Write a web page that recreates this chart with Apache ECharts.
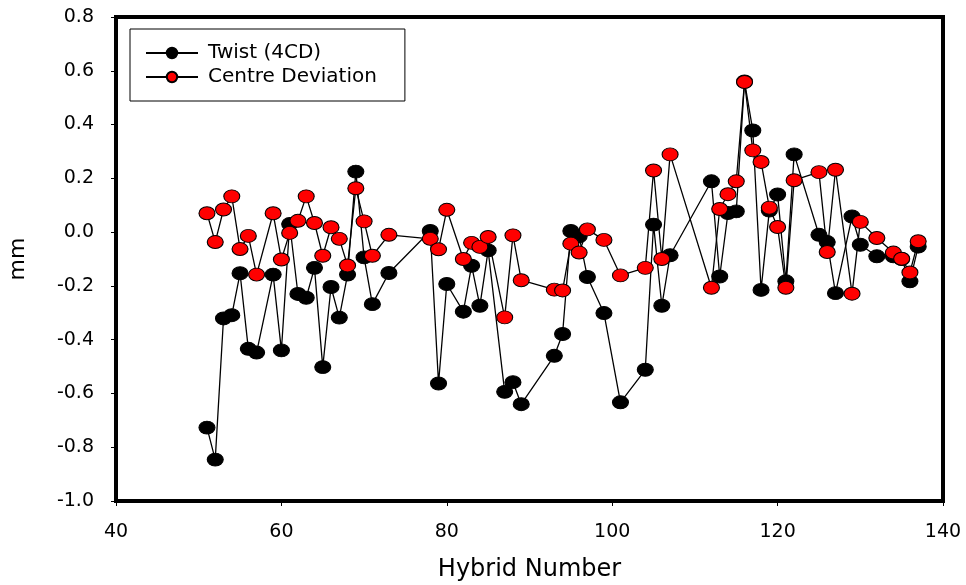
<!DOCTYPE html>
<html>
<head>
<meta charset="utf-8">
<script src="https://cdn.jsdelivr.net/npm/echarts@6/dist/echarts.min.js"></script>
<style>
  html, body { margin: 0; padding: 0; background: #fff; }
  #chart { width: 966px; height: 585px; }
</style>
</head>
<body>
<div id="chart"></div>
<script>
// hybrid numbers
var hybrids = [51, 52, 53, 54, 55, 56, 57, 59, 60, 61, 62, 63, 64, 65, 66, 67, 68, 69, 70, 71, 73,
  78, 79, 80, 82, 83, 84, 85, 87, 88, 89, 93, 94, 95, 96, 97, 99, 101, 104, 105, 106, 107,
  112, 113, 114, 115, 116, 117, 118, 119, 120, 121, 122, 125, 126, 127, 129, 130, 132, 134, 135, 136, 137]

// Twist (4CD), mm
var twist = [-0.727, -0.846, -0.321, -0.309, -0.153, -0.434, -0.448, -0.158, -0.440, 0.030, -0.230, -0.244, -0.133, -0.502, -0.204, -0.318, -0.158, 0.225, -0.094, -0.268, -0.152,
  0.004, -0.563, -0.193, -0.296, -0.125, -0.274, -0.068, -0.594, -0.558, -0.640, -0.460, -0.379, 0.004, -0.016, -0.167, -0.301, -0.633, -0.512, 0.028, -0.274, -0.086,
  0.189, -0.165, 0.071, 0.077, 0.560, 0.378, -0.215, 0.080, 0.140, -0.183, 0.289, -0.010, -0.037, -0.227, 0.058, -0.047, -0.090, -0.090, -0.100, -0.183, -0.054]

// Centre Deviation, mm
var centreDev = [0.070, -0.037, 0.084, 0.133, -0.063, -0.014, -0.158, 0.070, -0.102, -0.003, 0.042, 0.133, 0.034, -0.088, 0.018, -0.025, -0.124, 0.163, 0.040, -0.088, -0.010,
  -0.025, -0.064, 0.083, -0.100, -0.040, -0.055, -0.018, -0.317, -0.012, -0.179, -0.214, -0.217, -0.043, -0.076, 0.010, -0.029, -0.161, -0.133, 0.229, -0.100, 0.289,
  -0.207, 0.086, 0.141, 0.189, 0.558, 0.304, 0.261, 0.091, 0.019, -0.207, 0.193, 0.223, -0.074, 0.232, -0.229, 0.038, -0.022, -0.076, -0.099, -0.150, -0.034]

function pairs(vals) {
  return hybrids.map(function (h, i) { return [h, vals[i]] })
}

var font = 'DejaVu Sans'
var myChart = echarts.init(document.getElementById('chart'))

var option = {
  animation: false,
  backgroundColor: '#fff',
  grid: {
    left: 116,
    right: 23,
    top: 17,
    bottom: 84,
    outerBoundsMode: 'none',
    show: true,
    borderColor: '#000',
    borderWidth: 4
  },
  legend: {
    left: 130,
    top: 29,
    orient: 'vertical',
    itemWidth: 52,
    itemHeight: 13,
    itemGap: 4,
    borderColor: '#000',
    borderWidth: 1,
    padding: [14, 28, 14, 15],
    textStyle: { fontFamily: font, fontSize: 20, color: '#000', padding: [0, 0, 0, 5] },
    data: ['Twist (4CD)', 'Centre Deviation']
  },
  xAxis: {
    type: 'value',
    min: 40,
    max: 140,
    interval: 20,
    name: 'Hybrid Number',
    nameLocation: 'middle',
    nameGap: 57,
    nameTextStyle: { fontFamily: font, fontSize: 24, color: '#000' },
    axisLine: { onZero: false, lineStyle: { color: '#000', width: 4 } },
    axisTick: { show: true, length: 5, lineStyle: { color: '#000', width: 1 } },
    axisLabel: { fontFamily: font, fontSize: 19, color: '#000', margin: 22 },
    splitLine: { show: false }
  },
  yAxis: {
    type: 'value',
    min: -1,
    max: 0.8,
    interval: 0.2,
    name: 'mm',
    nameLocation: 'middle',
    nameGap: 87,
    nameRotate: 90,
    nameTextStyle: { fontFamily: font, fontSize: 22, color: '#000' },
    axisLine: { show: true, onZero: false, lineStyle: { color: '#000', width: 4 } },
    axisTick: { show: true, length: 5, lineStyle: { color: '#000', width: 1 } },
    axisLabel: {
      fontFamily: font, fontSize: 19, color: '#000', margin: 22,
      formatter: function (v) { return v.toFixed(1) }
    },
    splitLine: { show: false }
  },
  series: [
    {
      name: 'Twist (4CD)',
      type: 'line',
      data: pairs(twist),
      symbol: 'circle',
      symbolSize: [16, 13],
      lineStyle: { color: '#000', width: 1.3 },
      itemStyle: { color: '#000', borderColor: '#000', borderWidth: 1 },
      z: 2
    },
    {
      name: 'Centre Deviation',
      type: 'line',
      data: pairs(centreDev),
      symbol: 'circle',
      symbolSize: [16, 13],
      lineStyle: { color: '#000', width: 1.3 },
      itemStyle: { color: '#ff0000', borderColor: '#000', borderWidth: 1 },
      z: 3
    }
  ]
}

myChart.setOption(option)
</script>
</body>
</html>
